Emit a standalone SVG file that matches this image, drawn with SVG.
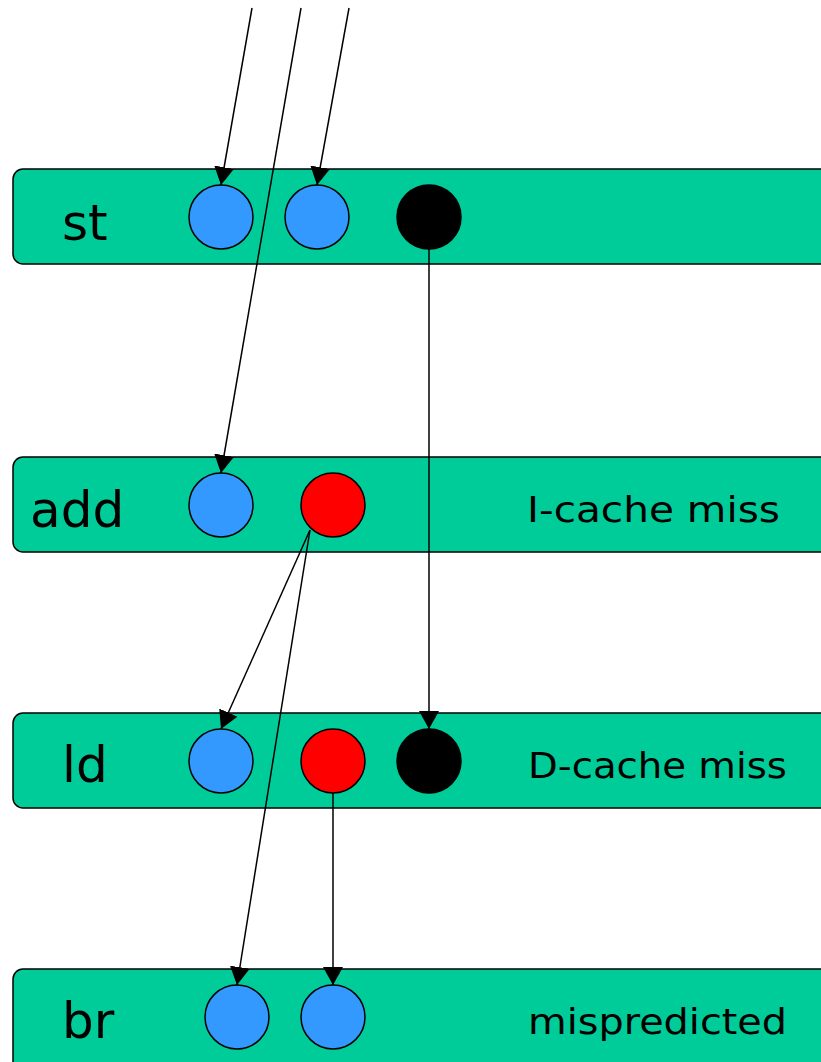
<svg xmlns="http://www.w3.org/2000/svg" width="821" height="1062" viewBox="0 0 821 1062">
<style>
.bar{fill:#00cc99;stroke:#000;stroke-width:1.5}
.blue{fill:#3399ff;stroke:#000;stroke-width:1.5}
.red{fill:#ff0000;stroke:#000;stroke-width:1.5}
.blk{fill:#000;stroke:#000;stroke-width:1.5}
.op{font-family:"Comic Sans MS","DejaVu Sans",sans-serif;font-size:50px;fill:#000}
.note{font-family:"Comic Sans MS","DejaVu Sans",sans-serif;font-size:36px;fill:#000}
.conn line{stroke:#000;stroke-width:1.5}
</style>
<defs>
<marker id="ah" markerUnits="userSpaceOnUse" markerWidth="20" markerHeight="20" refX="18" refY="10" orient="auto">
<path d="M0,0 L18,10 L0,20 Z" fill="#000"/>
</marker>
</defs>
<g id="st">
<rect class="bar" x="13" y="169" width="820" height="95" rx="10"/>
<text class="op" x="62" y="240">st</text>
<circle class="blue" cx="221" cy="217" r="32"/>
<circle class="blue" cx="317" cy="217" r="32"/>
<circle class="blk" cx="429" cy="217" r="32"/>
</g>
<g id="add">
<rect class="bar" x="13" y="457" width="820" height="95" rx="10"/>
<text class="op" x="30" y="527">add</text>
<circle class="blue" cx="221" cy="505" r="32"/>
<circle class="red" cx="333" cy="505" r="32"/>
<text class="note" x="527" y="522" textLength="253" lengthAdjust="spacingAndGlyphs">I-cache miss</text>
</g>
<g id="ld">
<rect class="bar" x="13" y="713" width="820" height="95" rx="10"/>
<text class="op" x="62" y="782">ld</text>
<circle class="blue" cx="221" cy="761" r="32"/>
<circle class="red" cx="333" cy="761" r="32"/>
<circle class="blk" cx="429" cy="761" r="32"/>
<text class="note" x="528" y="778" textLength="259" lengthAdjust="spacingAndGlyphs">D-cache miss</text>
</g>
<g id="br">
<rect class="bar" x="13" y="969" width="820" height="110" rx="10"/>
<text class="op" x="62" y="1038">br</text>
<circle class="blue" cx="237" cy="1017" r="32"/>
<circle class="blue" cx="333" cy="1017" r="32"/>
<text class="note" x="528" y="1034" textLength="259" lengthAdjust="spacingAndGlyphs">mispredicted</text>
</g>
<g id="connectors" class="conn">
<line x1="252" y1="8" x2="221" y2="185" marker-end="url(#ah)"/>
<line x1="349" y1="8" x2="317" y2="185" marker-end="url(#ah)"/>
<line x1="301" y1="8" x2="221" y2="473" marker-end="url(#ah)"/>
<line x1="429" y1="249" x2="429" y2="729" marker-end="url(#ah)"/>
<line x1="310" y1="530" x2="221" y2="729" marker-end="url(#ah)"/>
<line x1="310" y1="530" x2="237" y2="985" marker-end="url(#ah)"/>
<line x1="333" y1="793" x2="333" y2="985" marker-end="url(#ah)"/>
</g>
</svg>
